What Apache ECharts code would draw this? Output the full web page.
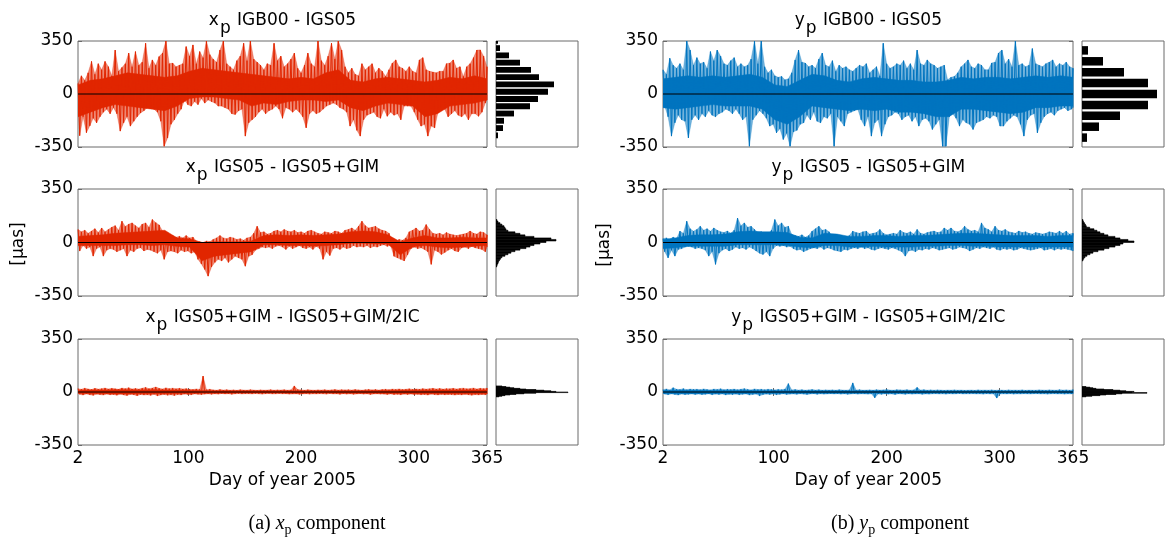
<!DOCTYPE html>
<html><head><meta charset="utf-8">
<script src="https://cdn.jsdelivr.net/npm/echarts@6/dist/echarts.min.js"></script>
<style>html,body{margin:0;padding:0;background:#fff}#c{width:1166px;height:543px}</style>
</head><body><div id="c"></div>
<script>
// ---------- data ----------
const START_DAY = 2, STEP_DAYS = 3;          // sampling of the spike envelopes (days)
const CORE_STEP = 11;                         // sampling of the dense core band (days)
const dayTicks = [2, 100, 200, 300, 365];
const valueTicks = [-350, 0, 350];

// spike extremes, every 3 days
const xTopHi = [70,120,90,140,215,130,200,160,215,180, 120,290,150,175,200,270,180,280,190,210,
 335,170,225,190,247,270,350,200,204,180, 190,200,313,250,324,200,280,240,350,260,
 230,210,290,350,200,180,160,220,250,335, 220,350,230,210,190,160,200,190,335,220,
 250,180,200,230,270,170,140,190,270,200, 180,350,220,190,250,335,230,350,290,180,
 140,170,130,120,200,160,180,200,140,170, 150,116,160,204,225,180,170,150,180,150,
 140,225,240,160,150,145,140,150,150,200, 204,225,170,180,116,180,200,240,290,291, 250,180];
const xTopLo = [-275,-150,-255,-210,-160,-190,-150,-120,-100,-130, -90,-130,-245,-190,-150,-212,-180,-150,-125,-110,
 -90,-80,-100,-120,-180,-345,-290,-200,-170,-130, -100,-40,-70,-80,-50,-70,-30,-60,-40,-50,
 -60,-80,-80,-90,-100,-130,-135,-110,-100,-278, -190,-170,-150,-120,-100,-130,-110,-100,-80,-100,
 -160,-90,-100,-120,-100,-120,-150,-223,-130,-110, -130,-120,-100,-80,-70,-60,-70,-90,-100,-120,
 -212,-170,-240,-278,-170,-140,-130,-120,-150,-160, -100,-147,-120,-140,-130,-170,-80,-80,-80,-120,
 -169,-212,-200,-278,-212,-223,-120,-90,-100,-150, -130,-110,-140,-150,-130,-170,-130,-130,-147,-120, -60,-40];

const yTopHi = [160,130,236,190,170,200,160,350,290,190, 240,200,210,170,280,220,290,250,200,190,
 220,240,180,200,180,190,230,350,200,350, 180,140,160,120,110,116,94,100,140,225,
 290,210,204,180,190,170,230,270,190,180, 220,150,190,170,180,160,150,170,190,180,
 200,140,160,180,120,335,200,170,180,200, 190,220,170,200,160,290,200,190,225,200,
 190,170,180,190,94,110,116,140,180,200, 225,180,170,200,190,160,160,205,210,270,
 290,200,230,180,350,190,200,180,190,300, 200,190,180,200,210,225,180,200,190,210, 180,170];
const yTopLo = [-80,-150,-278,-190,-140,-170,-180,-290,-170,-140, -170,-130,-150,-110,-140,-150,-130,-120,-100,-110,
 -130,-100,-130,-170,-150,-345,-170,-140,-110,-130, -160,-212,-200,-256,-230,-300,-260,-345,-250,-240,
 -200,-190,-140,-170,-120,-180,-190,-150,-160,-130, -345,-150,-180,-212,-130,-120,-110,-100,-170,-212,
 -150,-278,-190,-170,-278,-200,-150,-140,-120,-130, -170,-150,-140,-180,-150,-212,-170,-160,-180,-234,
 -200,-170,-345,-345,-150,-130,-160,-212,-170,-190, -200,-234,-190,-180,-170,-150,-160,-140,-150,-212,
 -212,-180,-160,-140,-150,-200,-278,-170,-140,-130, -256,-190,-150,-130,-120,-140,-110,-100,-90,-110, -100,-90];

const xMidHi = [85,70,80,60,75,90,65,95,70,85, 100,110,80,139,105,120,128,110,95,120,
 128,100,150,130,115,75,55,40,45,35, 40,30,45,30,35,10,5,0,10,5,
 20,30,45,30,25,35,30,20,25,15, 30,35,60,106,65,70,55,60,75,80,
 70,85,75,70,80,65,70,60,75,80, 70,60,55,70,65,60,75,70,60,80,
 85,95,80,106,139,110,95,100,106,90, 80,75,60,10,5,20,15,30,70,80,
 95,75,80,117,85,60,55,60,50,65, 55,50,45,50,55,60,75,60,55,70, 65,50];
const xMidLo = [-56,-20,-40,-30,-89,-40,-30,-89,-50,-40, -45,-60,-50,-40,-89,-50,-60,-40,-35,-55,
 -45,-50,-60,-70,-50,-110,-60,-55,-60,-70, -50,-60,-55,-70,-60,-110,-140,-176,-220,-160,
 -130,-110,-120,-100,-130,-110,-90,-100,-110,-155, -90,-80,-50,-40,-30,-35,-30,-40,-25,-20,
 -30,-45,-25,-40,-30,-20,-35,-40,-30,-45, -25,-40,-110,-60,-85,-40,-35,-45,-30,-40,
 -35,-20,-30,-25,-30,-20,-35,-25,-30,-20, -15,-25,-20,-90,-100,-110,-120,-80,-40,-30,
 -40,-35,-45,-60,-143,-50,-60,-78,-65,-50, -40,-55,-60,-35,-30,-40,-25,-35,-40,-45, -60,-30];

const yMidHi = [25,30,20,35,25,74,60,139,90,74, 85,106,80,90,74,95,80,70,65,75,
 60,80,160,110,128,100,106,85,65,70, 60,55,80,150,110,128,100,106,52,45,
 40,50,35,45,74,90,106,80,85,70, 40,35,45,40,35,45,74,65,60,70,
 74,55,60,65,85,60,50,55,60,55, 80,65,60,70,55,85,60,55,65,70,
 75,65,70,95,80,95,75,70,80,106, 85,75,80,70,128,95,85,70,106,80,
 75,85,70,65,60,75,65,70,60,55, 65,60,55,60,70,65,60,74,60,74, 55,60];
const yMidLo = [-60,-100,-50,-89,-45,-40,-30,-25,-30,-40, -35,-40,-50,-89,-60,-143,-70,-50,-40,-55,
 -45,-30,-40,-35,-45,-30,-40,-55,-70,-78, -60,-89,-40,-20,-25,-20,-30,-25,-40,-50,
 -45,-60,-50,-40,-35,-40,-30,-45,-35,-40, -50,-55,-60,-45,-50,-40,-35,-40,-30,-40,
 -35,-45,-50,-40,-35,-40,-45,-35,-40,-50, -60,-89,-55,-50,-60,-45,-50,-40,-45,-35,
 -40,-50,-45,-40,-35,-45,-40,-30,-35,-40, -55,-45,-35,-40,-30,-35,-40,-30,-45,-50,
 -40,-45,-40,-50,-45,-35,-40,-45,-50,-45, -40,-35,-50,-45,-40,-50,-40,-45,-40,-45, -50,-55];

const xBotHi = [22,18,25,20,16,24,19,22,26,20, 24,21,18,26,22,28,20,23,19,25,
 30,22,26,33,24,20,27,22,25,21, 24,20,22,18,16,20,17,105,15,18,
 14,12,16,13,15,12,14,11,15,13, 12,15,13,11,14,12,13,15,12,14,
 13,15,12,14,40,16,14,12,15,13, 12,14,13,15,12,14,16,13,15,14,
 15,13,16,14,12,15,17,14,16,13, 16,18,15,19,17,20,16,18,21,17,
 20,18,22,19,21,24,20,23,19,22, 21,24,20,23,25,21,22,26,20,24, 22,25];
const xBotLo = [-15,-20,-12,-18,-22,-14,-17,-20,-13,-18, -16,-21,-14,-19,-23,-15,-18,-24,-16,-20,
 -18,-22,-15,-25,-19,-16,-21,-18,-23,-17, -19,-14,-16,-18,-13,-15,-17,-14,-12,-15,
 -12,-14,-10,-13,-11,-15,-12,-10,-13,-11, -11,-13,-10,-12,-14,-11,-10,-13,-12,-10,
 -12,-11,-14,-13,-12,-15,-13,-11,-14,-12, -13,-11,-12,-14,-10,-13,-12,-15,-11,-14,
 -12,-15,-13,-11,-14,-12,-16,-13,-12,-14, -14,-16,-13,-17,-15,-18,-14,-16,-13,-17,
 -15,-18,-16,-20,-14,-17,-19,-15,-18,-16, -17,-20,-16,-19,-15,-18,-21,-17,-19,-16, -18,-14];

const yBotHi = [15,20,14,28,18,16,22,15,19,17, 18,15,20,16,14,19,17,21,15,18,
 16,19,15,18,22,17,14,20,16,18, 15,18,16,14,17,15,19,55,14,16,
 13,15,12,14,16,13,15,12,14,13, 14,12,15,13,12,14,60,13,15,12,
 13,14,12,15,13,14,16,13,12,15, 14,13,15,12,14,30,13,15,12,14,
 12,14,13,11,13,12,14,12,13,11, 12,13,11,14,12,13,12,14,11,13,
 13,11,14,12,13,12,14,11,13,12, 12,14,13,12,14,13,12,15,13,14, 12,15];
const yBotLo = [-14,-18,-12,-16,-20,-13,-17,-15,-12,-16, -13,-17,-15,-12,-18,-14,-16,-13,-19,-15,
 -17,-14,-18,-15,-13,-20,-16,-14,-25,-17, -14,-16,-13,-18,-15,-12,-16,-14,-13,-15,
 -12,-14,-16,-13,-11,-15,-12,-14,-13,-11, -13,-11,-14,-12,-15,-13,-11,-14,-12,-13,
 -14,-12,-38,-13,-15,-12,-14,-13,-16,-12, -13,-15,-12,-14,-13,-12,-15,-13,-14,-12,
 -11,-13,-12,-14,-11,-13,-12,-10,-13,-12, -12,-11,-13,-12,-14,-11,-13,-12,-40,-13,
 -12,-13,-11,-14,-12,-13,-11,-12,-13,-11, -11,-13,-12,-14,-12,-11,-13,-12,-14,-12, -13,-11];

// dense core band, every 11 days
const xTopCoreHi = [60,90,100,120,140,130,120,110,120,150,170,160,150,140,130,120,110,100,110,100,140,160,90,80,100,110,100,90,80,90,110,100,120,100];
const xTopCoreLo = [-150,-120,-90,-70,-80,-90,-100,-110,-80,-30,-20,-20,-30,-40,-80,-60,-70,-50,-40,-40,-50,-40,-90,-110,-80,-60,-70,-80,-150,-130,-80,-70,-60,-40];
const yTopCoreHi = [100,110,120,110,120,110,120,130,110,60,50,90,130,120,90,80,100,110,100,90,90,80,80,90,110,100,110,110,100,110,120,110,120,110];
const yTopCoreLo = [-90,-100,-90,-80,-70,-80,-80,-80,-100,-170,-200,-150,-80,-90,-100,-110,-100,-110,-100,-120,-120,-130,-150,-150,-100,-100,-110,-120,-130,-120,-90,-90,-80,-80];
const xMidCoreHi = [40,45,50,60,65,70,75,80,30,25,0,5,5,5,10,45,50,45,50,45,50,55,70,75,70,50,5,30,45,30,30,35,30,30];
const xMidCoreLo = [-20,-20,-20,-20,-15,-15,-20,-15,-25,-30,-120,-90,-80,-70,-60,-15,-15,-20,-20,-25,-20,-15,-5,-5,-10,-10,-80,-30,-20,-30,-35,-30,-25,-20];
const yMidCoreHi = [20,30,45,50,50,55,70,75,70,70,65,35,30,60,55,40,40,45,45,40,45,45,50,55,60,60,55,50,45,45,45,40,45,45];
const yMidCoreLo = [-40,-35,-25,-25,-25,-25,-15,-15,-15,-15,-20,-30,-35,-20,-20,-30,-30,-25,-30,-30,-30,-25,-25,-20,-20,-25,-25,-30,-30,-30,-30,-30,-30,-30];
const xBotCoreHi = [12,14,14,15,15,14,15,14,13,12,10,9,9,8,8,8,8,9,9,8,8,8,9,9,10,10,11,12,12,13,13,14,14,14];
const xBotCoreLo = [-10,-12,-12,-13,-13,-12,-12,-11,-10,-10,-9,-8,-8,-7,-7,-7,-7,-8,-8,-7,-7,-8,-8,-9,-9,-10,-10,-11,-11,-12,-12,-12,-12,-12];
const yBotCoreHi = [10,11,11,11,10,10,10,10,9,9,9,8,8,8,8,8,8,8,8,8,8,8,7,7,7,7,7,7,7,7,7,7,7,7];
const yBotCoreLo = [-10,-11,-11,-11,-10,-10,-10,-10,-9,-9,-9,-8,-8,-8,-8,-8,-8,-8,-8,-8,-8,-8,-7,-7,-7,-7,-7,-7,-7,-7,-7,-7,-7,-7];

// histograms: bin centres (µas) and bar lengths (counts, scaled)
const xTopHistBins = [351,303,255,207,159,111,63,15,-33,-81,-129,-177,-225,-273];
const xTopHistCounts = [2,4,13,24,35,43,58,52,42,34,18,8,7,2];
const yTopHistBins = [288,216,144,72,0,-72,-144,-216,-288];
const yTopHistCounts = [6,21,42,66,75,66,38,17,5];
const xMidHistBins = [145,135,125,115,105,95,85,75,65,55,45,35,25,15,5,-5,-15,-25,-35,-45,-55,-65,-75,-85,-95,-105,-115,-125,-135,-145,-155];
const xMidHistCounts = [1,2,4,6,8,9,10,12,19,24,29,38,55,60,50,44,38,34,30,24,19,15,12,9,6,4.5,3.5,2.5,2,1.2,0.7];
const yMidHistBins = [145,135,125,115,105,95,85,75,65,55,45,35,25,15,5,-5,-15,-25,-35,-45,-55,-65,-75,-85,-95,-105,-115];
const yMidHistCounts = [1,1.5,2.5,3.5,4.3,7.7,12,15,18,22,26,33,38,46,52,41,38,33,27,22,16,11,8,5,3,1.7,1];
const xBotHistBins = [38,34,30,26,22,18,14,10,6,2,-2,-6,-10,-14,-18,-22,-26,-30];
const xBotHistCounts = [6,10,14,18,24,30,40,48,55,60,72,40,28,20,14,9,6,3];
const yBotHistBins = [34,30,26,22,18,14,10,6,2,-2,-6,-10,-14,-18,-22,-26,-30];
const yBotHistCounts = [4,8,11,14,22,31,38,44,52,50,65,40,34,24,18,10,4];

// ---------- chart ----------
const RED = '#e12600', BLUE = '#0074bf', BOX = '#6a6a6a';
const RED_T = 'rgba(225,38,0,0.55)', BLUE_T = 'rgba(0,116,191,0.55)';
const FONT = 'DejaVu Sans';
const mainLeft = [78, 663], mainW = [409, 410];
const histLeft = [496, 1082], histW = 82;
const rowTop = [41, 189, 339], rowH = [106, 107, 106];

const grids = [], xAxes = [], yAxes = [], series = [];
const panels = [
  [xTopHi, xTopLo, RED, RED_T, xTopCoreHi, xTopCoreLo], [yTopHi, yTopLo, BLUE, BLUE_T, yTopCoreHi, yTopCoreLo],
  [xMidHi, xMidLo, RED, RED_T, xMidCoreHi, xMidCoreLo], [yMidHi, yMidLo, BLUE, BLUE_T, yMidCoreHi, yMidCoreLo],
  [xBotHi, xBotLo, RED, RED_T, xBotCoreHi, xBotCoreLo], [yBotHi, yBotLo, BLUE, BLUE_T, yBotCoreHi, yBotCoreLo]];
const hists = [
  [xTopHistBins, xTopHistCounts, 48, 0.8], [yTopHistBins, yTopHistCounts, 72, 0.78],
  [xMidHistBins, xMidHistCounts, 10, 1], [yMidHistBins, yMidHistCounts, 10, 1],
  [xBotHistBins, xBotHistCounts, 4, 1], [yBotHistBins, yBotHistCounts, 4, 1]];

const labelStyle = {fontFamily: FONT, fontSize: 17, color: '#000'};

function bandSeries(p, hi, lo, step, loShift, color, z) {
  // one filled polygon: upper envelope forward, lower envelope backward
  const rows = hi.map((h, i) => [Math.min(START_DAY + step * i, 365), h, lo[i]]);
  return {type: 'custom', xAxisIndex: p, yAxisIndex: p, clip: true, animation: false, z: z,
    data: [rows[0]], encode: {x: 0, y: [1, 2]},
    renderItem: function (params, api) {
      const pts = [];
      for (let i = 0; i < rows.length; i++) pts.push(api.coord([rows[i][0], rows[i][1]]));
      for (let i = rows.length - 1; i >= 0; i--)
        pts.push(api.coord([Math.min(rows[i][0] + loShift, 365), rows[i][2]]));
      return {type: 'polygon', shape: {points: pts},
        style: {fill: color, stroke: color, lineWidth: 0.5}};
    }};
}
function spikeSeries(p, hi, lo, color) {
  const out = [];
  for (let i = 0; i < hi.length; i++) {
    const d = START_DAY + STEP_DAYS * i;
    out.push([d, hi[i]]);
    out.push([Math.min(d + STEP_DAYS / 2, 365), lo[i]]);
  }
  return {type: 'line', xAxisIndex: p, yAxisIndex: p, data: out, z: 4,
    showSymbol: false, symbol: 'none', sampling: null, clip: true, animation: false,
    lineStyle: {color: color, width: 1}};
}

for (let p = 0; p < 6; p++) {
  const row = Math.floor(p / 2), col = p % 2;
  const isBottom = row === 2;
  grids.push({left: mainLeft[col], top: rowTop[row], width: mainW[col], height: rowH[row],
    show: true, borderColor: BOX, borderWidth: 1, backgroundColor: '#fff'});
  xAxes.push({gridIndex: p, type: 'value', min: 2, max: 365, position: 'bottom',
    axisLine: {show: false}, splitLine: {show: false},
    axisTick: {show: isBottom, inside: true, length: 4, customValues: [100, 200, 300], lineStyle: {color: BOX}},
    axisLabel: {show: isBottom, customValues: dayTicks, margin: 5, ...labelStyle}});
  yAxes.push({gridIndex: p, type: 'value', min: -350, max: 350, interval: 350,
    axisLine: {show: false}, splitLine: {show: false},
    axisTick: {show: true, inside: true, length: 4, lineStyle: {color: BOX}},
    axisLabel: {show: true, margin: 5, customValues: valueTicks, ...labelStyle}});
  const [hi, lo, color, tint, cHi, cLo] = panels[p];
  series.push(bandSeries(p, hi, lo, STEP_DAYS, STEP_DAYS / 2, tint, 2));
  series.push(bandSeries(p, cHi, cLo, CORE_STEP, 0, color, 3));
  series.push(spikeSeries(p, hi, lo, color));
  series.push({type: 'line', xAxisIndex: p, yAxisIndex: p, z: 5, animation: false,
    data: [[dayTicks[0], 0], [dayTicks[dayTicks.length - 1], 0]],
    showSymbol: false, symbol: 'none', lineStyle: {color: '#000', width: 1}});
}
for (let p = 0; p < 6; p++) {
  const row = Math.floor(p / 2), col = p % 2;
  const gi = 6 + p;
  grids.push({left: histLeft[col], top: rowTop[row], width: histW, height: rowH[row],
    show: true, borderColor: BOX, borderWidth: 1, backgroundColor: '#fff'});
  xAxes.push({gridIndex: gi, type: 'value', min: 0, max: histW, show: false});
  yAxes.push({gridIndex: gi, type: 'value', min: -350, max: 350, show: false});
  const [bins, counts, bw, frac] = hists[p];
  const solid = frac >= 1;
  series.push({type: 'custom', xAxisIndex: gi, yAxisIndex: gi, clip: true, animation: false,
    data: bins.map((c, i) => [counts[i], c - bw * frac / 2, c + bw * frac / 2]),
    encode: {x: 0, y: [1, 2]},
    renderItem: function (params, api) {
      const a = api.coord([0, api.value(2)]);
      const b = api.coord([api.value(0), api.value(1)]);
      return {type: 'rect', shape: {x: a[0], y: a[1], width: b[0] - a[0], height: b[1] - a[1]},
        style: solid ? {fill: '#000', stroke: '#000', lineWidth: 0.6} : {fill: '#000'}};
    }});
}
// secondary axes for ticks on the top / right edges of the main boxes
for (let p = 0; p < 6; p++) {
  yAxes.push({gridIndex: p, type: 'value', position: 'right', min: -350, max: 350, interval: 350,
    axisLine: {show: false}, splitLine: {show: false}, axisLabel: {show: false},
    axisTick: {show: true, inside: true, length: 4, lineStyle: {color: BOX}}});
}
for (const p of [4, 5]) {
  xAxes.push({gridIndex: p, type: 'value', position: 'top', min: 2, max: 365,
    axisLine: {show: false}, splitLine: {show: false}, axisLabel: {show: false},
    axisTick: {show: true, inside: true, length: 4, customValues: [100, 200, 300], lineStyle: {color: BOX}}});
}

function titleText(x, y, comp, rest) {
  return {type: 'text', x: x, y: y, z: 10, style: {
    text: '{m|' + comp + '}{s|p}{m|' + rest + '}', align: 'center', verticalAlign: 'top', fill: '#000',
    fontFamily: FONT, fontSize: 17,
    rich: {m: {fontFamily: FONT, fontSize: 17, verticalAlign: 'top', fill: '#000'},
           s: {fontFamily: FONT, fontSize: 17, verticalAlign: 'top', fill: '#000', padding: [8, 1, 0, 1]}}}};
}
function plainText(x, y, txt, rot) {
  return {type: 'text', x: x, y: y, rotation: rot || 0, z: 10, style: {text: txt, align: 'center',
    verticalAlign: 'middle', fill: '#000', fontFamily: FONT, fontSize: 17}};
}
function caption(x, y, lab, comp) {
  return {type: 'text', x: x, y: y, z: 10, style: {
    text: '{n|' + lab + ' }{i|' + comp + '}{s|p}{n| component}', align: 'center', verticalAlign: 'top', fill: '#000',
    fontFamily: 'Liberation Serif', fontSize: 20,
    rich: {n: {fontFamily: 'Liberation Serif', fontSize: 20, verticalAlign: 'top', fill: '#000'},
           i: {fontFamily: 'Liberation Serif', fontSize: 20, fontStyle: 'italic', verticalAlign: 'top', fill: '#000'},
           s: {fontFamily: 'Liberation Serif', fontSize: 14, verticalAlign: 'top', fill: '#000', padding: [9, 0, 0, 0]}}}};
}
const graphics = [
  titleText(282.5, 12.5, 'x', ' IGB00 - IGS05'),
  titleText(868.3, 12.5, 'y', ' IGB00 - IGS05'),
  titleText(282.5, 159.5, 'x', ' IGS05 - IGS05+GIM'),
  titleText(868.3, 159.5, 'y', ' IGS05 - IGS05+GIM'),
  titleText(282.5, 309.5, 'x', ' IGS05+GIM - IGS05+GIM/2IC'),
  titleText(868.3, 309.5, 'y', ' IGS05+GIM - IGS05+GIM/2IC'),
  plainText(19, 244, '[µas]', Math.PI / 2),
  plainText(605, 245, '[µas]', Math.PI / 2),
  plainText(282.5, 481, 'Day of year 2005'),
  plainText(868.3, 481, 'Day of year 2005'),
  caption(317, 514, '(a)', 'x'),
  caption(900, 514, '(b)', 'y')
];

const chart = echarts.init(document.getElementById('c'), null, {renderer: 'canvas'});
chart.setOption({animation: false, backgroundColor: '#fff', grid: grids, xAxis: xAxes, yAxis: yAxes,
  series: series, graphic: graphics});
</script></body></html>
